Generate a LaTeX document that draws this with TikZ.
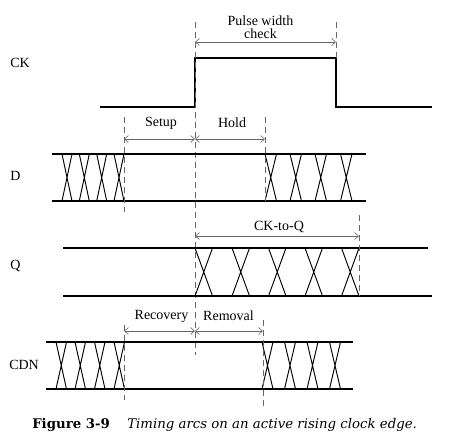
\documentclass[tikz,border=0pt]{standalone}
\usepackage{fontspec}
\usepackage{tikz}
\usetikzlibrary{arrows.meta,calc}
\newfontfamily\lbl{Liberation Serif}
\newfontfamily\capfont{DejaVu Serif}

\begin{document}
\begin{tikzpicture}[
            x = 1pt, y = -1pt, % pixel grid, y going down
            > = {Straight Barb[length=4pt,width=7pt]}, % arrow head style
            line join = miter,
            semithick % line style
        ]

        \tikzstyle{signal}=[draw = black, line width = 1.3pt]
        \tikzstyle{glitch}=[draw = black, line width = 0.95pt]
        \tikzstyle{marker}=[draw = black!60, line width = 0.7pt, dash pattern = on 6pt off 4pt]
        \tikzstyle{span}=[draw = black!60, line width = 0.6pt, <->]
        \tikzstyle{sig label}=[anchor = west, inner sep = 0pt, font = \lbl\fontsize{14}{16}\selectfont]
        \tikzstyle{arc label}=[inner sep = 0pt, align = center, font = \lbl\fontsize{14}{13}\selectfont]

        \useasboundingbox (0,0) rectangle (455,445);

        % clock
        \node[sig label] (ck) at (10,63) {CK};
        \coordinate (ckL) at (100,107);
        \coordinate (rise) at (195,107);
        \coordinate (riseT) at (195,58);
        \coordinate (fallT) at (336,58);
        \coordinate (fall) at (336,107);
        \coordinate (ckR) at (432,107);
        \draw[signal] (ckL) -- (rise) -- (riseT) -- (fallT) -- (fall) -- (ckR);

        \coordinate (edgeT) at (195,22);
        \coordinate (edgeB) at (195,355);
        \coordinate (pwT) at (336,22);
        \draw[marker] (edgeT) -- (edgeB);
        \draw[marker] (pwT) -- (fallT);
        \coordinate (pwL) at (195,42);
        \coordinate (pwR) at (336,42);
        \draw[span] (pwL) -- (pwR);
        \node[arc label] (pw) at (260.5,27.5) {Pulse width\\check};

        % data
        \node[sig label] (d) at (10,176) {D};
        \draw[signal] (52,154) -- (366,154);
        \draw[signal] (52,201) -- (366,201);
        \foreach \x in {62,79.3,96.7,114}
            \draw[glitch] (\x,154) -- (\x+10,201) (\x+10,154) -- (\x,201);
        \foreach \x in {265,290,315,340.5}
            \draw[glitch] (\x,154) -- (\x+11.5,201) (\x+11.5,154) -- (\x,201);

        \coordinate (suT) at (124,117);
        \coordinate (suB) at (124,212);
        \coordinate (hoT) at (265,117);
        \coordinate (hoB) at (265,201);
        \draw[marker] (suT) -- (suB);
        \draw[marker] (hoT) -- (hoB);
        \coordinate (suL) at (124,139);
        \coordinate (suR) at (195,139);
        \coordinate (hoR) at (265,139);
        \draw[span] (suL) -- (suR);
        \draw[span] (suR) -- (hoR);
        \node[arc label] (setup) at (161,123) {Setup};
        \node[arc label] (hold) at (232,123) {Hold};

        % output
        \node[sig label] (q) at (10,266) {Q};
        \draw[signal] (63,248) -- (428,248);
        \draw[signal] (63,296) -- (432,296);
        \foreach \x in {195,232,268.5,305,341.5}
            \draw[glitch] (\x,248) -- (\x+17.5,296) (\x+17.5,248) -- (\x,296);

        \coordinate (cqT) at (359,215);
        \coordinate (cqB) at (359,296);
        \draw[marker] (cqT) -- (cqB);
        \coordinate (cqL) at (195,236);
        \coordinate (cqR) at (359,236);
        \draw[span] (cqL) -- (cqR);
        \node[arc label] (cq) at (279,227) {CK-to-Q};

        % clear
        \node[sig label] (cdn) at (9,365) {CDN};
        \draw[signal] (46,342) -- (353,342);
        \draw[signal] (46,389) -- (353,389);
        \foreach \x in {56,75,94.5,114}
            \draw[glitch] (\x,342) -- (\x+10.5,389) (\x+10.5,342) -- (\x,389);
        \foreach \x in {262,284.5,307,329.5}
            \draw[glitch] (\x,342) -- (\x+11,389) (\x+11,342) -- (\x,389);

        \coordinate (rcT) at (124,325);
        \coordinate (rcB) at (124,400);
        \coordinate (rmT) at (263,320);
        \coordinate (rmB) at (263,408);
        \draw[marker] (rcT) -- (rcB);
        \draw[marker] (rmT) -- (rmB);
        \coordinate (rcL) at (124,331);
        \coordinate (rcR) at (195,331);
        \coordinate (rmR) at (263,331);
        \draw[span] (rcL) -- (rcR);
        \draw[span] (rcR) -- (rmR);
        \node[arc label] (rec) at (161.5,316) {Recovery};
        \node[arc label] (rem) at (228.5,316) {Removal};

        % caption
        \node[anchor = base west, inner sep = 0pt, font = \capfont\bfseries\fontsize{13.3}{15}\selectfont] (fig) at (32,428) {Figure 3-9};
        \node[anchor = base west, inner sep = 0pt, font = \capfont\itshape\fontsize{13.3}{15}\selectfont] (cap) at (127,428) {Timing arcs on an active rising clock edge.};

    \end{tikzpicture}
\end{document}
